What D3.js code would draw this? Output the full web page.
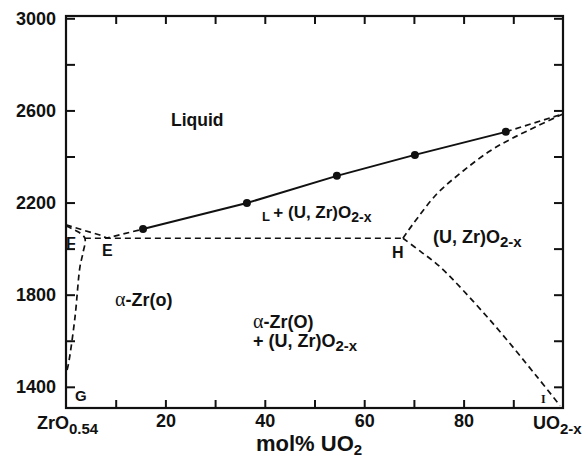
<!DOCTYPE html>
<html><head><meta charset="utf-8">
<script src="https://cdn.jsdelivr.net/npm/d3@7"></script>
<style>
body{margin:0;background:#fff;}
svg{display:block;font-family:"Liberation Sans",Arial,sans-serif;}
</style></head>
<body><svg id="c" width="584" height="459"></svg>
<script>
// ---- data ----
const xTicks = [0,10,20,30,40,50,60,70,80,90,100];
const xTickLabels = [20,40,60,80];
const yTickLabels = [1400,1800,2200,2600,3000];
const yMinorTicks = [1600,2000,2400,2800];
const liqX = [15.5,36.4,54.5,70.2,88.5];
const liqT = [2085,2198,2316,2407,2507];
const liqExtrap = [[88.5,2507],[100,2585]];
const zrLiquidus = [[0,2103],[3.5,2080],[6.8,2059],[8.2,2046],[15.5,2085]];
const monotectic = [[3.8,2045],[67.8,2045]];
const zrSolvus = [[0,2098],[2.5,2072],[3.8,2045],[3.4,1980],[2.8,1920],[1.8,1700],[0.5,1500],[0,1455]];
const uo2Solidus = [[67.8,2045],[69.8,2106],[74.6,2237],[79.9,2337],[85.3,2424],[89.9,2480],[100,2585]];
const uo2Solvus = [[67.8,2045],[71.5,1985],[75.3,1920],[85.3,1690],[94.8,1443],[99.4,1318]];

const svg = d3.select("#c");
const x = d3.scaleLinear([0,100],[66,563]);
const y = d3.scaleLinear([1308,3010],[408,16]);
const ink="#111";
const FF = "'Liberation Sans', Arial, sans-serif";
const tickFont = `bold 18px ${FF}`;

// frame
svg.append("rect").attr("x",x(0)).attr("y",y(3010)).attr("width",x(100)-x(0)).attr("height",y(1308)-y(3010))
  .attr("fill","none").attr("stroke",ink).attr("stroke-width",2.2);

const yAll = yTickLabels.concat(yMinorTicks).sort((a,b)=>a-b);
const gl = svg.append("g").attr("transform",`translate(${x(0)},0)`)
  .call(d3.axisLeft(y).tickValues(yAll).tickSize(-9).tickPadding(10)
    .tickFormat(d=>yTickLabels.includes(d)?d:""));
const gr = svg.append("g").attr("transform",`translate(${x(100)},0)`)
  .call(d3.axisRight(y).tickValues(yAll).tickSize(-9).tickFormat(""));
const gb = svg.append("g").attr("transform",`translate(0,${y(1308)})`)
  .call(d3.axisBottom(x).tickValues(xTicks.slice(1,-1)).tickSize(-8).tickPadding(6)
    .tickFormat(d=>xTickLabels.includes(d)?d:""));
const gt = svg.append("g").attr("transform",`translate(0,${y(3010)})`)
  .call(d3.axisTop(x).tickValues(xTicks.slice(1,-1)).tickSize(-8).tickFormat(""));
[gl,gr,gb,gt].forEach(g=>{
  g.select(".domain").remove();
  g.selectAll(".tick line").attr("stroke",ink).attr("stroke-width",2);
  g.selectAll("text").attr("fill",ink).style("font",tickFont);
});

// end labels on x axis
const endLab = (xp, main, sub)=>{
  const t = svg.append("text").attr("x",xp).attr("y",429)
    .attr("fill",ink).style("font",tickFont);
  t.append("tspan").text(main);
  t.append("tspan").attr("dy",5).style("font-size","15px").text(sub);
};
endLab(37,"ZrO","0.54");
endLab(533,"UO","2-x");

// axis title
const ttl = svg.append("text").attr("x",256).attr("y",451).attr("fill",ink)
  .style("font",`bold 22px ${FF}`);
ttl.append("tspan").text("mol% UO");
ttl.append("tspan").attr("dy",4).style("font-size","15px").text("2");

// lines
const line = d3.line().x(d=>x(d[0])).y(d=>y(d[1]));
const curve = d3.line().x(d=>x(d[0])).y(d=>y(d[1])).curve(d3.curveCatmullRom.alpha(0.5));
const plot = svg.append("g");
plot.append("path").attr("d",line(liqX.map((v,i)=>[v,liqT[i]])))
  .attr("fill","none").attr("stroke",ink).attr("stroke-width",2);
[[liqExtrap,line],[zrLiquidus,line],[monotectic,line],[zrSolvus,curve],[uo2Solidus,curve],[uo2Solvus,curve]]
  .forEach(([d,f])=>plot.append("path").attr("d",f(d)).attr("fill","none")
    .attr("stroke",ink).attr("stroke-width",1.7).attr("stroke-dasharray","6,4"));
plot.selectAll("circle").data(liqX).join("circle")
  .attr("cx",d=>x(d)).attr("cy",(d,i)=>y(liqT[i])).attr("r",4).attr("fill",ink);

// region labels
const lab = (xp,yp,parts,size)=>{
  const t = svg.append("text").attr("x",xp).attr("y",yp).attr("fill",ink)
    .style("font",`bold ${size}px ${FF}`);
  parts.forEach(p=>{
    const s=t.append("tspan").text(p.t);
    if(p.sub){s.attr("dy",4).style("font-size",(size-3)+"px");}
    if(p.up){s.attr("dy",-3);}
    if(p.size){s.style("font-size",p.size+"px");}
    if(p.serif){s.style("font-family","'Liberation Serif',serif").style("font-weight","normal");}
  });
};
lab(171,126,[{t:"Liquid"}],17.5);
lab(262,221,[{t:"L ",size:13},{t:"+ (U, Zr)O",up:true},{t:"2-x",sub:true}],17);
lab(433,243,[{t:"(U, Zr)O"},{t:"2-x",sub:true}],18);
lab(115,306,[{t:"α",serif:true,size:20},{t:"-Zr(o)"}],18);
lab(253,328,[{t:"α",serif:true,size:20},{t:"-Zr(O)"}],18);
lab(253,347,[{t:"+ (U, Zr)O"},{t:"2-x",sub:true}],18);
lab(66,249,[{t:"F"}],16);
lab(102,256,[{t:"E"}],16);
lab(392,258,[{t:"H"}],16);
lab(75,401,[{t:"G"}],15);
svg.append("text").attr("x",541).attr("y",403).attr("fill",ink)
  .style("font","bold 12px 'Liberation Serif', serif").text("I");
</script></body></html>
